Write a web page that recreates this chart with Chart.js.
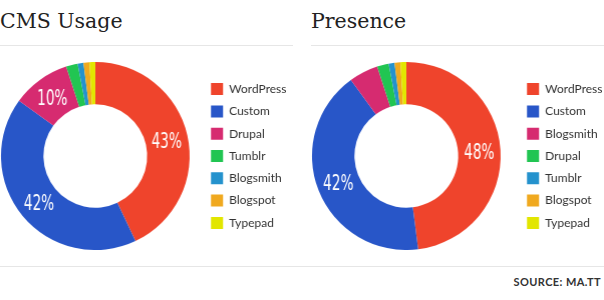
<!DOCTYPE html>
<html>
<head>
<meta charset="utf-8">
<script src="https://cdn.jsdelivr.net/npm/chart.js@4.4.0/dist/chart.umd.min.js"></script>
<style>
  body { margin: 0; width: 604px; height: 300px; position: relative; overflow: hidden; background: #fff; }
  .title { position: absolute; top: 5px; margin: 0; font: normal 20.5px/32px "DejaVu Serif", serif; color: #222; }
  .rule { position: absolute; height: 1px; background: #e6e6e6; }
  .box { position: absolute; }
  .source { position: absolute; right: 3px; top: 275px; font: bold 11px/14px Lato, sans-serif; color: #333; letter-spacing: 0.4px; }
</style>
</head>
<body>
<h2 class="title" style="left:0">CMS Usage</h2>
<h2 class="title" style="left:311px">Presence</h2>
<div class="rule" style="left:0;width:293px;top:45px"></div>
<div class="rule" style="left:311px;width:293px;top:45px"></div>
<div class="box" id="leftBox" style="top:62px"><canvas id="usageChart"></canvas></div>
<div class="box" id="rightBox" style="top:62px"><canvas id="presenceChart"></canvas></div>
<div class="rule" style="left:0;width:604px;top:266px"></div>
<div class="source">SOURCE: MA.TT</div>
<script>
const usageLabels = ['WordPress', 'Custom', 'Drupal', 'Tumblr', 'Blogsmith', 'Blogspot', 'Typepad'];
const usageValues = [43, 42, 10, 2, 1, 1, 1];
const usageColors = ['#ef442c', '#2856c8', '#d62b70', '#21c552', '#2492cd', '#f0a91f', '#e2e600'];

const presenceLabels = ['WordPress', 'Custom', 'Blogsmith', 'Drupal', 'Tumblr', 'Blogspot', 'Typepad'];
const presenceValues = [48, 42, 5, 2, 1, 1, 1];
const presenceColors = ['#ef442c', '#2856c8', '#d62b70', '#21c552', '#2492cd', '#f0a91f', '#e2e600'];

const legendFont = { family: 'Lato', size: 12 };
const legendPad = 10.3;
const boxSize = 12;

// width the legend will take, so the donut area can be sized exactly
function legendWidth(labels) {
    const c = document.createElement('canvas').getContext('2d');
    c.font = legendFont.size + 'px ' + legendFont.family;
    let w = 0;
    labels.forEach(l => { w = Math.max(w, c.measureText(l).width); });
    return legendPad + boxSize + legendFont.size / 2 + w + 10;
}

const pctLabels = {
    id: 'pctLabels',
    afterDatasetsDraw(chart) {
        const ctx = chart.ctx;
        const data = chart.data.datasets[0].data;
        const total = data.reduce((a, b) => a + b, 0);
        chart.getDatasetMeta(0).data.forEach((arc, i) => {
            const pct = Math.round(data[i] / total * 100);
            if (pct < 10) return;
            const p = arc.tooltipPosition();
            ctx.save();
            ctx.translate(p.x, p.y + 2);
            ctx.scale(0.72, 1);
            ctx.font = '21px "Liberation Sans Narrow", "DejaVu Sans Condensed", sans-serif';
            ctx.fillStyle = '#fff';
            ctx.textAlign = 'center';
            ctx.textBaseline = 'middle';
            ctx.fillText(pct + '%', 0, 0);
            ctx.restore();
        });
    }
};

function makeDonut(canvasId, boxId, labels, values, colors, areaWidth, left) {
    const lw = legendWidth(labels);
    const box = document.getElementById(boxId);
    box.style.left = left + 'px';
    box.style.width = (areaWidth + lw) + 'px';
    box.style.height = '188px';
    return new Chart(document.getElementById(canvasId), {
        type: 'doughnut',
        data: {
            labels: labels,
            datasets: [{
                data: values,
                backgroundColor: colors,
                borderWidth: 0
            }]
        },
        options: {
            responsive: true,
            maintainAspectRatio: false,
            animation: false,
            cutout: '55%',
            plugins: {
                legend: {
                    position: 'right',
                    labels: {
                        boxWidth: boxSize,
                        boxHeight: boxSize,
                        padding: legendPad,
                        color: '#333',
                        font: legendFont
                    }
                },
                tooltip: { enabled: false }
            }
        },
        plugins: [pctLabels]
    });
}

makeDonut('usageChart', 'leftBox', usageLabels, usageValues, usageColors, 210, -10);
makeDonut('presenceChart', 'rightBox', presenceLabels, presenceValues, presenceColors, 220, 296);
</script>
</body>
</html>
